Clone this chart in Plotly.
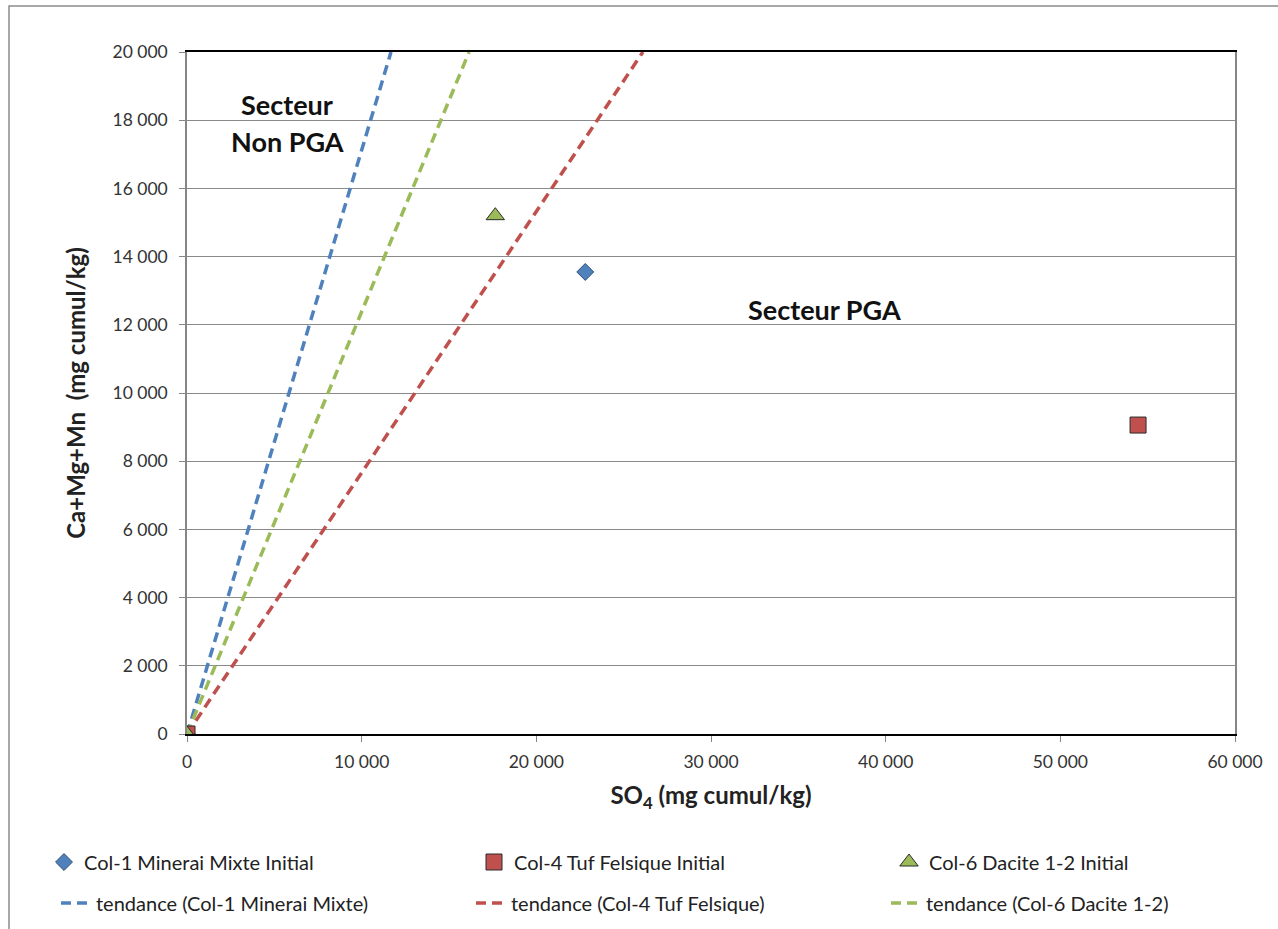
import plotly.graph_objects as go

# ---- data ----
col1_x = [0, 22800]
col1_y = [0, 13550]
col4_x = [0, 54450]
col4_y = [0, 9060]
col6_x = [0, 17650]
col6_y = [0, 15200]

tend1_x = [0, 11680]
tend1_y = [0, 20000]
tend4_x = [0, 26100]
tend4_y = [0, 20000]
tend6_x = [0, 16150]
tend6_y = [0, 20000]

names_pts = ["Col-1 Minerai Mixte Initial", "Col-4 Tuf Felsique Initial", "Col-6 Dacite 1-2 Initial"]
names_tend = ["tendance (Col-1 Minerai Mixte)", "tendance (Col-4 Tuf Felsique)", "tendance (Col-6 Dacite 1-2)"]

BLUE = "#4F81BD"
RED = "#C0504D"
GREEN = "#9BBB59"
FONT = "Lato"

fig = go.Figure()

fig.add_trace(go.Scatter(x=tend1_x, y=tend1_y, mode="lines", name=names_tend[0],
                         line=dict(color=BLUE, width=3.5, dash="10px,6px"),
                         legend="legend2", legendwidth=370))
fig.add_trace(go.Scatter(x=tend4_x, y=tend4_y, mode="lines", name=names_tend[1],
                         line=dict(color=RED, width=3.5, dash="10px,6px"),
                         legend="legend2", legendwidth=370))
fig.add_trace(go.Scatter(x=tend6_x, y=tend6_y, mode="lines", name=names_tend[2],
                         line=dict(color=GREEN, width=3.5, dash="10px,6px"),
                         legend="legend2", legendwidth=260))

fig.add_trace(go.Scatter(x=col1_x, y=col1_y, mode="markers", name=names_pts[0],
                         marker=dict(symbol="diamond", size=13, color=BLUE, line=dict(color="#2C4D75", width=1)),
                         legend="legend", legendwidth=385))
fig.add_trace(go.Scatter(x=col4_x, y=col4_y, mode="markers", name=names_pts[1],
                         marker=dict(symbol="square", size=16, color=RED, line=dict(color="#2b2b2b", width=1)),
                         legend="legend", legendwidth=370))
fig.add_trace(go.Scatter(x=col6_x, y=col6_y, mode="markers", name=names_pts[2],
                         marker=dict(symbol="triangle-up", size=16, color=GREEN, line=dict(color="#2b2b2b", width=1)),
                         legend="legend", legendwidth=240))

L, R, T, B = 187, 43, 52, 195
W, H = 1278, 929
pw, ph = W - L - R, H - T - B

def px(xp):
    return (xp - L) / pw

def py(yp):
    return (H - B - yp) / ph

fig.update_layout(
    width=W, height=H,
    margin=dict(l=L, r=R, t=T, b=B, autoexpand=False),
    paper_bgcolor="white", plot_bgcolor="white",
    separators=", ",
    font=dict(family=FONT, color="#333333", size=17),
    showlegend=True,
    legend=dict(orientation="h", x=px(44), xanchor="left", y=py(862), yanchor="middle",
                font=dict(family=FONT, size=20, color="#222222"), traceorder="normal",
                bgcolor="rgba(0,0,0,0)", entrywidthmode="pixels"),
    legend2=dict(orientation="h", x=px(56), xanchor="left", y=py(903), yanchor="middle",
                 font=dict(family=FONT, size=20, color="#222222"), traceorder="normal",
                 bgcolor="rgba(0,0,0,0)", entrywidthmode="pixels"),
    xaxis=dict(range=[0, 60000], dtick=10000, tickformat=",.0f",
               showgrid=False, zeroline=False,
               showline=True, linecolor="#000000", linewidth=1.5, mirror=True,
               ticks="outside", ticklen=6, tickcolor="#868686",
               ticklabelstandoff=5,
               tickfont=dict(family=FONT, size=17.5, color="#333333"),
               title=dict(text="SO<sub>4</sub> (mg cumul/kg)", standoff=16,
                          font=dict(family=FONT, size=24, color="#222222", weight="bold"))),
    yaxis=dict(range=[0, 20000], dtick=2000, tickformat=",.0f",
               showgrid=True, gridcolor="#8a8a8a", gridwidth=1, zeroline=False,
               showline=True, linecolor="#868686", linewidth=1.5, mirror=True,
               ticks="outside", ticklen=6, tickcolor="#868686",
               ticklabelstandoff=8,
               tickfont=dict(family=FONT, size=17.5, color="#333333"),
               title=dict(text="Ca+Mg+Mn&nbsp; (mg cumul/kg)", standoff=20,
                          font=dict(family=FONT, size=24, color="#222222", weight="bold"))),
)

fig.add_annotation(x=5750, y=18450, text="<b>Secteur</b>", showarrow=False,
                   font=dict(family=FONT, size=27, color="#111111"))
fig.add_annotation(x=5750, y=17390, text="<b>Non PGA</b>", showarrow=False,
                   font=dict(family=FONT, size=27, color="#111111"))
fig.add_annotation(x=36470, y=12460, text="<b>Secteur PGA</b>", showarrow=False,
                   font=dict(family=FONT, size=27, color="#111111"))

# outer chart border
fig.add_shape(type="rect", xref="paper", yref="paper",
              x0=px(9), x1=px(1300), y0=py(960), y1=py(6),
              line=dict(color="#8c8c8c", width=1.5), fillcolor="rgba(0,0,0,0)", layer="below")

fig.write_html("out.html")
